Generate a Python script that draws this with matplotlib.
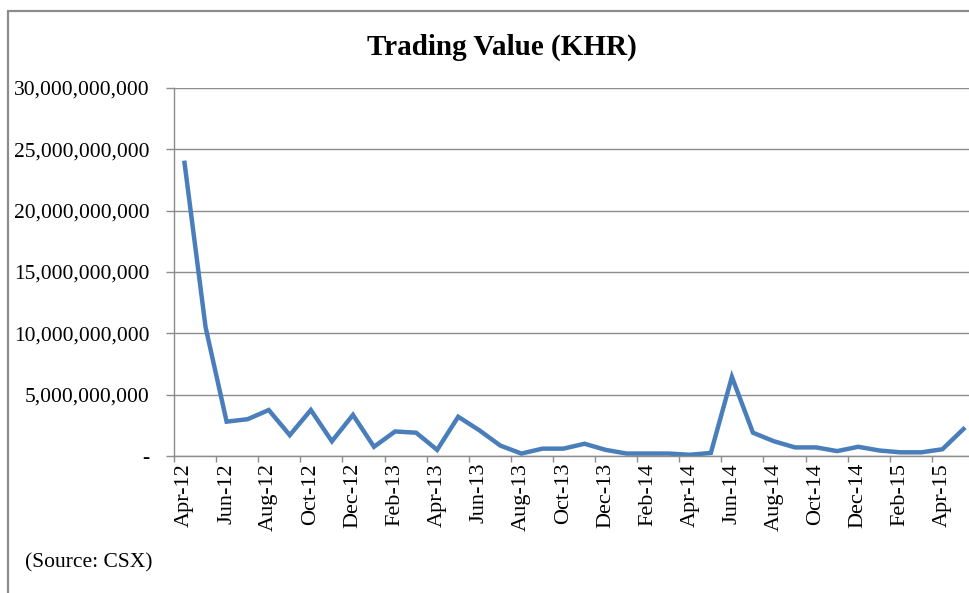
import numpy as np
import matplotlib
matplotlib.use("Agg")
import matplotlib.pyplot as plt
from matplotlib.ticker import FuncFormatter, FixedLocator
from matplotlib.patches import Rectangle

# Datos mensuales (Apr-12 .. May-15), valor de negociación en KHR
meses = ["Apr-12", "May-12", "Jun-12", "Jul-12", "Aug-12", "Sep-12", "Oct-12", "Nov-12",
         "Dec-12", "Jan-13", "Feb-13", "Mar-13", "Apr-13", "May-13", "Jun-13", "Jul-13",
         "Aug-13", "Sep-13", "Oct-13", "Nov-13", "Dec-13", "Jan-14", "Feb-14", "Mar-14",
         "Apr-14", "May-14", "Jun-14", "Jul-14", "Aug-14", "Sep-14", "Oct-14", "Nov-14",
         "Dec-14", "Jan-15", "Feb-15", "Mar-15", "Apr-15", "May-15"]
valores = [23.9e9, 10.5e9, 2.8e9, 3.0e9, 3.75e9, 1.7e9, 3.75e9, 1.2e9,
           3.35e9, 0.75e9, 2.0e9, 1.9e9, 0.5e9, 3.2e9, 2.1e9, 0.85e9,
           0.2e9, 0.6e9, 0.6e9, 1.0e9, 0.5e9, 0.2e9, 0.2e9, 0.2e9,
           0.1e9, 0.25e9, 6.45e9, 1.9e9, 1.2e9, 0.7e9, 0.7e9, 0.4e9,
           0.75e9, 0.45e9, 0.3e9, 0.3e9, 0.55e9, 2.2e9]
y_ticks = [0, 5e9, 10e9, 15e9, 20e9, 25e9, 30e9]

plt.rcParams["font.family"] = ["Liberation Serif", "DejaVu Serif"]

W, H = 969, 593
fig = plt.figure(figsize=(W / 100, H / 100), dpi=100)

# marco gris del gráfico (se sale por la derecha y abajo)
fig.patches.append(Rectangle((8 / W, -0.1), 1.2, 1 - 11 / H + 0.1, transform=fig.transFigure,
                             fill=False, edgecolor="#8c8c8c", linewidth=1.6))

ax = fig.add_axes([174 / W, 1 - 456 / H, 800 / W, (456 - 88) / H])
x = np.arange(len(meses))
ax.plot(x, valores, color="#4a7ebb", linewidth=3.2, solid_joinstyle="miter")

ax.set_xlim(-0.5, len(meses) - 0.5)
ax.set_ylim(0, 30e9)
ax.yaxis.set_major_locator(FixedLocator(y_ticks))
ax.yaxis.set_major_formatter(FuncFormatter(lambda v, p: "-" if v == 0 else f"{v:,.0f}"))
ax.grid(axis="y", color="#8c8c8c", linewidth=1.0)
ax.set_axisbelow(True)

# marcas del eje x entre categorías, etiquetas cada dos meses
ax.set_xticks(np.arange(-0.5, len(meses), 2))
ax.set_xticklabels([])
ax.set_xticks(x[::2], minor=True)
ax.set_xticklabels(meses[::2], minor=True, rotation=90, fontsize=16)
ax.tick_params(axis="x", which="minor", length=0, pad=5)
ax.tick_params(axis="x", which="major", length=4.5, color="#8c8c8c", width=1)
ax.tick_params(axis="y", length=6, color="#8c8c8c", width=1, labelsize=15.5, pad=11.5)

for s in ["top", "right"]:
    ax.spines[s].set_visible(False)
for s in ["left", "bottom"]:
    ax.spines[s].set_color("#8c8c8c")
    ax.spines[s].set_linewidth(1.0)

fig.text(502 / W, 1 - 47 / H, "Trading Value (KHR)", ha="center", va="center",
         fontsize=21, fontweight="bold")
fig.text(25 / W, 1 - 563 / H, "(Source: CSX)", ha="left", va="center", fontsize=15.5)

fig.savefig("out.png", dpi=100)
